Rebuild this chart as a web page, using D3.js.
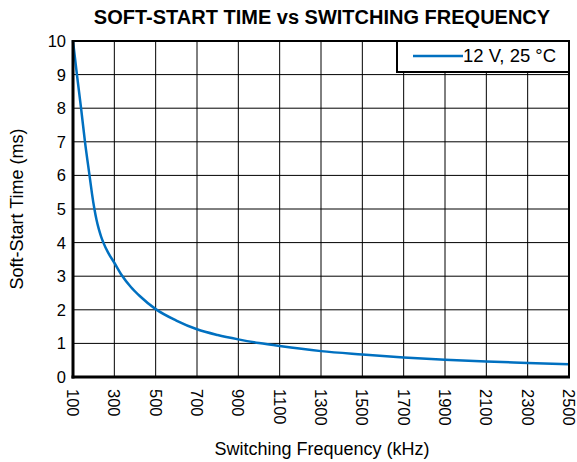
<!DOCTYPE html>
<html><head><meta charset="utf-8">
<script src="https://cdn.jsdelivr.net/npm/d3@7"></script>
<style>body{margin:0;background:#fff}svg{display:block}text{font-family:Arial,"Liberation Sans",sans-serif}</style>
</head><body>
<svg id="c" width="577" height="462"></svg>
<script>
const title = "SOFT-START TIME vs SWITCHING FREQUENCY";
const xLabel = "Switching Frequency (kHz)";
const yLabel = "Soft-Start Time (ms)";
const seriesName = "12 V, 25 °C";
const freq = [100, 119, 139, 158, 181, 192, 203, 214, 225, 236, 247, 270, 300, 336, 380, 423, 500, 600, 700, 800, 900, 1000, 1100, 1300, 1500, 1700, 1900, 2100, 2300, 2500];
const tss  = [10, 9, 8, 7, 5.95, 5.45, 5.02, 4.67, 4.40, 4.18, 4.0, 3.70, 3.40, 3.03, 2.68, 2.41, 2.02, 1.68, 1.42, 1.25, 1.12, 1.01, 0.92, 0.77, 0.67, 0.58, 0.51, 0.46, 0.42, 0.38];
const xTicks = [100, 300, 500, 700, 900, 1100, 1300, 1500, 1700, 1900, 2100, 2300, 2500];
const yTicks = [0,1,2,3,4,5,6,7,8,9,10];

const svg = d3.select("#c");
const L = 73, R = 569, T = 41, B = 377;
const x = d3.scaleLinear().domain([100, 2500]).range([L, R]);
const y = d3.scaleLinear().domain([0, 10]).range([B, T]);

// grid
const g = svg.append("g");
g.selectAll("line.v").data(xTicks).join("line")
  .attr("x1", d => x(d)).attr("x2", d => x(d)).attr("y1", T).attr("y2", B)
  .attr("stroke", "#000").attr("stroke-width", 1);
g.selectAll("line.h").data(yTicks).join("line")
  .attr("x1", L).attr("x2", R).attr("y1", d => y(d)).attr("y2", d => y(d))
  .attr("stroke", "#000").attr("stroke-width", 1);

// curve
const data = freq.map((f, i) => [f, tss[i]]);
svg.append("path").datum(data)
  .attr("fill", "none").attr("stroke", "#0070c0").attr("stroke-width", 2.5)
  .attr("d", d3.line().x(d => x(d[0])).y(d => y(d[1])).curve(d3.curveMonotoneX));

// frame
svg.append("rect").attr("x", L).attr("y", T).attr("width", R - L).attr("height", B - T)
  .attr("fill", "none").attr("stroke", "#000").attr("stroke-width", 2);
svg.append("line").attr("x1", L).attr("x2", L).attr("y1", T - 1).attr("y2", B + 1.5).attr("stroke", "#000").attr("stroke-width", 3);
svg.append("line").attr("x1", L - 1.5).attr("x2", R + 1).attr("y1", B).attr("y2", B).attr("stroke", "#000").attr("stroke-width", 3);

// y tick labels
svg.selectAll("text.yt").data(yTicks).join("text")
  .attr("x", 66).attr("y", d => y(d)).attr("dy", "0.36em")
  .attr("text-anchor", "end").attr("font-size", 16.5).text(d => d);

// x tick labels rotated
svg.selectAll("text.xt").data(xTicks).join("text")
  .attr("transform", d => `translate(${x(d)},389) rotate(90)`)
  .attr("dy", "0.36em").attr("text-anchor", "start").attr("font-size", 16.5).text(d => d);

// titles
svg.append("text").attr("x", 322).attr("y", 24).attr("text-anchor", "middle")
  .attr("font-size", 20).attr("font-weight", "bold").text(title);
svg.append("text").attr("x", 322).attr("y", 455).attr("text-anchor", "middle")
  .attr("font-size", 18).text(xLabel);
svg.append("text").attr("transform", "translate(23,209) rotate(-90)").attr("text-anchor", "middle")
  .attr("font-size", 18).text(yLabel);

// legend
const lg = svg.append("g");
lg.append("rect").attr("x", 397).attr("y", 41).attr("width", 172).attr("height", 31)
  .attr("fill", "#fff").attr("stroke", "#000").attr("stroke-width", 2);
lg.append("line").attr("x1", 413).attr("x2", 463).attr("y1", 56).attr("y2", 56)
  .attr("stroke", "#0070c0").attr("stroke-width", 2.5);
lg.append("text").attr("x", 463).attr("y", 62).attr("font-size", 18.5).text(seriesName);
</script>
</body></html>
